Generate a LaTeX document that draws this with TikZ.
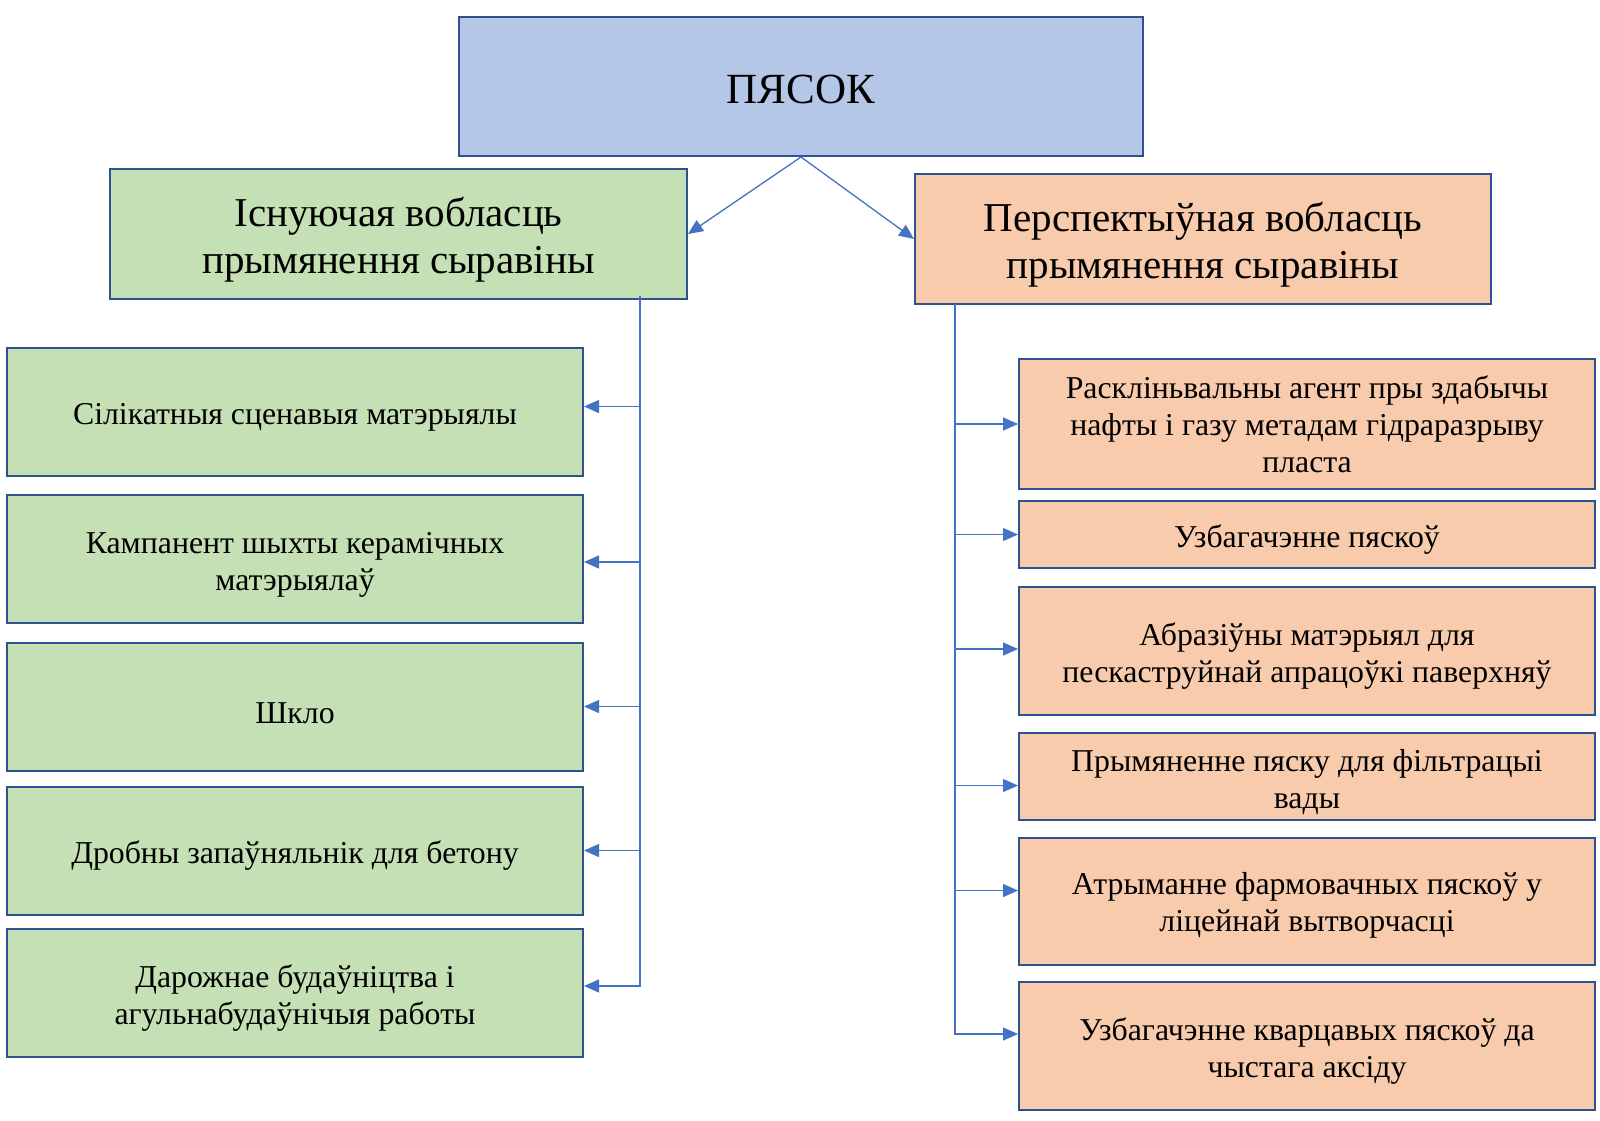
\documentclass[tikz,border=0pt]{standalone}
\usepackage{fontspec}
\setmainfont{Liberation Serif}
\usetikzlibrary{arrows.meta,calc}
\definecolor{topfill}{HTML}{B4C7E7}
\definecolor{greenfill}{HTML}{C5E0B4}
\definecolor{orangefill}{HTML}{F8CBAD}
\definecolor{edgeblue}{HTML}{2F528F}
\definecolor{connblue}{HTML}{4472C4}
% strut on the first line, to set text slightly below centre as the original does
\newcommand{\firstline}[1][1.05em]{\rule{0pt}{#1}}
\tikzset{
  boxbase/.style={draw=edgeblue, line width=2pt, inner sep=0pt, align=center, text=black},
  topbox/.style={boxbase, fill=topfill, minimum width=684pt, minimum height=139pt,
     font=\fontsize{43}{50}\selectfont},
  headgreen/.style={boxbase, fill=greenfill, minimum width=577pt, minimum height=130pt,
     font=\fontsize{41}{47}\selectfont},
  headorange/.style={boxbase, fill=orangefill, minimum width=576pt, minimum height=130pt,
     font=\fontsize{41}{47}\selectfont},
  leafgreen/.style={boxbase, fill=greenfill, minimum width=576pt, minimum height=128pt,
     font=\fontsize{31.8}{37}\selectfont},
  leaforange/.style={boxbase, fill=orangefill, minimum width=576pt,
     font=\fontsize{31.8}{37}\selectfont},
  conn/.style={draw=connblue, line width=1.3pt,
     -{Triangle[length=15pt,width=13pt]}},
}
\begin{document}
\begin{tikzpicture}[x=1pt,y=-1pt]
\useasboundingbox (0,0) rectangle (1600,1120);
% main boxes
\node[topbox] (top) at (801,86.5) {\firstline[0.82em]ПЯСОК};
\node[headgreen] (lh) at (398.5,234) {\firstline[1.0em]Існуючая вобласць\\прымянення сыравіны};
\node[headorange] (rh) at (1203,239) {\firstline[1.0em]Перспектыўная вобласць\\прымянення сыравіны};
% left leaves
\node[leafgreen] (l1) at (295,411.5) {\firstline Сілікатныя сценавыя матэрыялы};
\node[leafgreen] (l2) at (295,559) {\firstline Кампанент шыхты керамічных\\матэрыялаў};
\node[leafgreen] (l3) at (295,706.5) {\firstline Шкло};
\node[leafgreen] (l4) at (295,850.5) {\firstline Дробны запаўняльнік для бетону};
\node[leafgreen] (l5) at (295,993) {\firstline Дарожнае будаўніцтва і\\агульнабудаўнічыя работы};
% right leaves
\node[leaforange, minimum height=130pt] (r1) at (1307,424) {Раскліньвальны агент пры здабычы\\нафты і газу метадам гідраразрыву\\пласта};
\node[leaforange, minimum height=67pt] (r2) at (1307,534.5) {\firstline Узбагачэнне пяскоў};
\node[leaforange, minimum height=128pt] (r3) at (1307,651) {\firstline Абразіўны матэрыял для\\пескаструйнай апрацоўкі паверхняў};
\node[leaforange, minimum height=87pt] (r4) at (1307,776.5) {\firstline Прымяненне пяску для фільтрацыі\\вады};
\node[leaforange, minimum height=127pt] (r5) at (1307,901.5) {\firstline[0.95em]Атрыманне фармовачных пяскоў у\\ліцейнай вытворчасці};
\node[leaforange, minimum height=128pt] (r6) at (1307,1046) {\firstline Узбагачэнне кварцавых пяскоў да\\чыстага аксіду};
% top connectors
\draw[conn] (top.south) -- (lh.east);
\draw[conn] (top.south) -- (rh.west);
% trunks
\coordinate (lt) at (640,296);
\coordinate (rt) at (955,304);
\draw[conn] (lt) |- ([yshift=5pt]l1.east);
\draw[conn] (lt) |- ([yshift=-3pt]l2.east);
\draw[conn] (lt) |- (l3.east);
\draw[conn] (lt) |- (l4.east);
\draw[conn] (lt) |- ([yshift=7pt]l5.east);
\draw[conn] (rt) |- (r1.west);
\draw[conn] (rt) |- (r2.west);
\draw[conn] (rt) |- ([yshift=2pt]r3.west);
\draw[conn] (rt) |- ([yshift=-9pt]r4.west);
\draw[conn] (rt) |- ([yshift=11pt]r5.west);
\draw[conn] (rt) |- ([yshift=12pt]r6.west);
\end{tikzpicture}
\end{document}
